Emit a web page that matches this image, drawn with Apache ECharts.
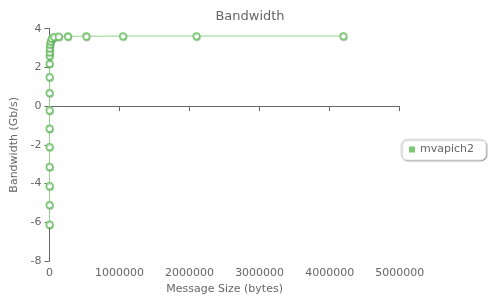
<!DOCTYPE html>
<html><head><meta charset="utf-8">
<script src="https://cdn.jsdelivr.net/npm/echarts@6/dist/echarts.min.js"></script>
<style>html,body{margin:0;padding:0;background:#fff}#c{width:500px;height:300px}</style>
</head><body><div id="c"></div>
<script>
var title = 'Bandwidth';
var seriesName = 'mvapich2';
var xAxisName = 'Message Size (bytes)';
var yAxisName = 'Bandwidth (Gb/s)';
var messageSizes = [1,2,4,8,16,32,64,128,256,512,1024,2048,4096,8192,16384,32768,65536,131072,262144,524288,1048576,2097152,4194304];
var bandwidth = [-6.11,-5.1,-4.12,-3.13,-2.1,-1.15,-0.21,0.69,1.51,2.2,2.6,2.8,3.0,3.2,3.35,3.5,3.58,3.6,3.61,3.61,3.62,3.62,3.62];

var chart = echarts.init(document.getElementById('c'), null, {renderer:'canvas'});
var font = 'DejaVu Sans';
chart.setOption({
  animation:false,
  title:{text:title,left:'center',top:5,textStyle:{fontFamily:font,fontSize:13,fontWeight:'normal',color:'#666'}},
  legend:{orient:'vertical',right:14,top:139,padding:[5,12,5,8],borderColor:'#e4e4e4',borderWidth:1,borderRadius:6,
    shadowColor:'rgba(0,0,0,0.3)',shadowBlur:1,shadowOffsetX:1,shadowOffsetY:1,backgroundColor:'#fff',
    itemWidth:6,itemHeight:6,itemGap:5,icon:'rect',textStyle:{fontFamily:font,fontSize:11,color:'#666'},
    data:[{name:seriesName,itemStyle:{color:'#7cc874',borderWidth:0}}]},
  grid:{left:49.5,right:100.3,top:28.7,bottom:39},
  xAxis:{type:'value',min:0,max:5000000,interval:1000000,name:xAxisName,nameLocation:'middle',nameGap:21,
    nameTextStyle:{fontFamily:font,fontSize:11,color:'#666'},
    axisLine:{lineStyle:{color:'#666'}},axisTick:{show:true,length:5,lineStyle:{color:'#666'}},
    axisLabel:{fontFamily:font,fontSize:11,color:'#666',margin:7,formatter:function(v){return String(v);}},splitLine:{show:false}},
  yAxis:{type:'value',min:-8,max:4,interval:2,name:yAxisName,nameLocation:'middle',nameGap:26,
    nameTextStyle:{fontFamily:font,fontSize:11,color:'#666'},
    axisLine:{show:true,lineStyle:{color:'#666'}},axisTick:{show:true,length:5,lineStyle:{color:'#666'}},
    axisLabel:{fontFamily:font,fontSize:11,color:'#666',margin:8},splitLine:{show:false}},
  series:[{name:seriesName,type:'line',data:messageSizes.map(function(x,i){return [x,bandwidth[i]];}),
    symbol:'circle',symbolSize:6.5,showAllSymbol:true,
    lineStyle:{color:'#93d38c',width:1},
    itemStyle:{color:'#fff',borderColor:'#78c870',borderWidth:1.3,shadowColor:'rgba(60,140,60,0.5)',shadowBlur:1,shadowOffsetX:0.5,shadowOffsetY:1}}]
});
</script></body></html>
